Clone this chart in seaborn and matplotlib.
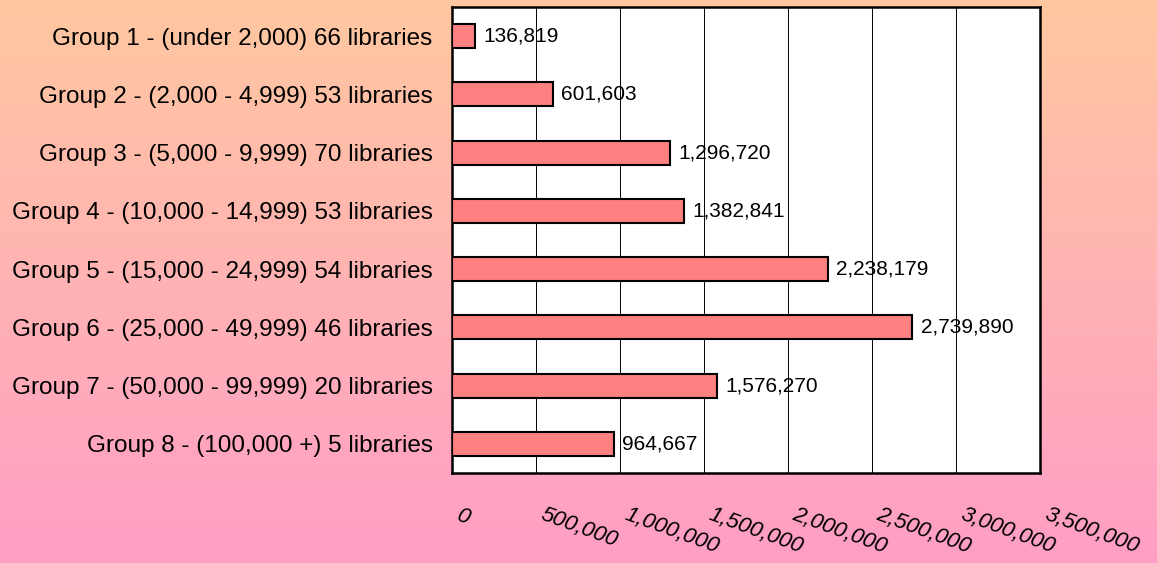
import numpy as np
import pandas as pd
import matplotlib
matplotlib.use("Agg")
import matplotlib.pyplot as plt
from matplotlib.transforms import ScaledTranslation
from matplotlib.colors import LinearSegmentedColormap
import seaborn as sns

categories = [
    "Group 1 - (under 2,000) 66 libraries",
    "Group 2 - (2,000 - 4,999) 53 libraries",
    "Group 3 - (5,000 - 9,999) 70 libraries",
    "Group 4 - (10,000 - 14,999) 53 libraries",
    "Group 5 - (15,000 - 24,999) 54 libraries",
    "Group 6 - (25,000 - 49,999) 46 libraries",
    "Group 7 - (50,000 - 99,999) 20 libraries",
    "Group 8 - (100,000 +) 5 libraries",
]
values = [136819, 601603, 1296720, 1382841, 2238179, 2739890, 1576270, 964667]
xticks = [0, 500000, 1000000, 1500000, 2000000, 2500000, 3000000, 3500000]
xticklabels = ["0", "500,000", "1,000,000", "1,500,000", "2,000,000",
               "2,500,000", "3,000,000", "3,500,000"]

sns.set_theme(style="white")
plt.rcParams['font.family'] = ['Liberation Sans', 'DejaVu Sans']

fig = plt.figure(figsize=(11.57, 5.63), dpi=100)

# gradient background
bg = fig.add_axes([0, 0, 1, 1], zorder=-10)
cmap = LinearSegmentedColormap.from_list("bg", ["#FFC8A0", "#FF9EC6"])
grad = np.linspace(0, 1, 256).reshape(-1, 1)
bg.imshow(grad, aspect="auto", cmap=cmap, extent=[0, 1, 0, 1], origin="upper")
bg.set_axis_off()

ax = fig.add_axes([452/1157, 1 - 473/563, (1040 - 452)/1157, (473 - 7)/563])
ax.set_facecolor("white")

df = pd.DataFrame({"category": categories, "value": values})
sns.barplot(data=df, x="value", y="category", orient="h", color="#FF8080",
            saturation=1, edgecolor="black", linewidth=1.5, width=0.41, ax=ax,
            zorder=3)

ax.set_xlim(0, 3500000)
ax.set_ylim(7.5, -0.5)
ax.set_xlabel("")
ax.set_ylabel("")

ax.set_xticks(xticks)
ax.set_xticklabels([])
ax.tick_params(axis="x", length=0)
ax.tick_params(axis="y", length=0, pad=14, labelsize=17.5, colors="black")

# rotated italic x tick labels, offset right of each tick
off = ScaledTranslation(0.09, -0.315, fig.dpi_scale_trans)
for xv, lab in zip(xticks, xticklabels):
    ax.text(xv, 0, lab, transform=ax.get_xaxis_transform() + off,
            rotation=-20, rotation_mode="anchor", ha="left", va="top",
            fontstyle="italic", fontsize=16, color="black", clip_on=False)

ax.xaxis.grid(True, color="black", linewidth=0.7, zorder=0)
ax.set_axisbelow(True)
for s in ax.spines.values():
    s.set_visible(True)
    s.set_color("black")
    s.set_linewidth(1.8)

for i, v in enumerate(values):
    ax.annotate(f"{v:,}", xy=(v, i), xytext=(6, 0), textcoords="offset points",
                va="center", ha="left", fontsize=15, color="black", zorder=5)

fig.savefig("out.png", dpi=100)
